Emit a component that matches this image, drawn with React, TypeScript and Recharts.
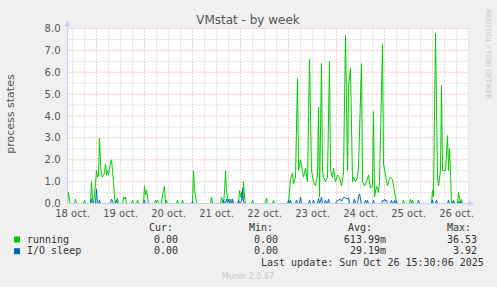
import { LineChart, Line, XAxis, YAxis, CartesianGrid, ReferenceLine } from 'recharts';

// hours counted from 18 oct 00:00
const dayLabels = ['18 oct.', '19 oct.', '20 oct.', '21 oct.', '22 oct.', '23 oct.', '24 oct.', '25 oct.', '26 oct.'];
const dayNoons = [12, 36, 60, 84, 108, 132, 156, 180, 204];
const dayStarts = [24, 48, 72, 96, 120, 144, 168, 192];
const yTicks = [0, 1, 2, 3, 4, 5, 6, 7, 8];

// [hour, value] samples
const running: [number, number][] = [
  [9.5, 0], [10, 0.5], [10.5, 0.1], [11, 0],
  [13, 0], [13.5, 0.2], [14, 0],
  [17.5, 0], [18, 0.15], [18.5, 0],
  [21, 0], [21.5, 1.0], [22, 0.2], [22.5, 0],
  [23.5, 0.9], [24, 1.5], [24.5, 1.2], [25, 1.3], [25.5, 3.0], [26, 1.8], [26.5, 1.3], [27, 1.2], [27.5, 1.3],
  [28, 1.4], [28.5, 1.8], [29, 1.3], [29.5, 1.5], [30, 1.3], [30.5, 1.6], [31, 1.9], [31.5, 2.0], [32, 1.5],
  [32.5, 1.0], [33, 0.3], [33.5, 0],
  [34.5, 0.25], [35, 0],
  [37, 0], [37.5, 0.3], [38, 0.2], [38.5, 0.3], [39, 0],
  [41.5, 0], [42, 0.15], [42.5, 0],
  [44, 0], [44.5, 0.15], [45, 0],
  [47.5, 0], [48, 0.8], [48.5, 0.4], [49, 0.6], [49.5, 0.3], [50, 0],
  [53, 0], [53.5, 0.15], [54, 0.05], [54.5, 0.15], [55, 0],
  [56.5, 0], [57, 0.4], [57.5, 0.6], [58, 0.8], [58.5, 0], [59, 0.15], [59.5, 0],
  [64, 0], [64.5, 0.15], [65, 0],
  [66.5, 0], [67, 0.15], [67.5, 0],
  [72, 0], [72.5, 1.5], [73, 0.6], [73.5, 0.4], [74, 0],
  [81, 0], [81.5, 0.3], [82, 0],
  [86, 0], [86.5, 0.3], [87, 0.15], [87.5, 0],
  [88, 0.5], [88.5, 1.5], [89, 0.6], [89.5, 0.2], [90, 0.1], [90.5, 0.2], [91, 0.15], [91.5, 0.2], [92, 0.1], [92.5, 0],
  [95, 0], [95.5, 0.6], [96, 0.3], [96.5, 0.5], [97, 0.2], [97.5, 1.0], [98, 0.3], [98.5, 0],
  [101.5, 0], [102, 0.15], [102.5, 0],
  [108.5, 0], [109, 0.25], [109.5, 0],
  [112, 0], [112.5, 0.15], [113, 0],
  [120, 0], [121, 1.1], [122, 1.4], [122.5, 0.9], [123.5, 1.2], [124.5, 5.7], [125, 1.5], [126, 2.0], [127, 1.5],
  [127.5, 1.2], [128.5, 1.6], [129.5, 1.0], [130.5, 6.6], [131.5, 1.5], [132.5, 1.0], [133.5, 0.8], [134.5, 1.3],
  [135, 4.4], [135.5, 0.3], [136.5, 6.4], [137, 1.5], [137.5, 1.2], [138.5, 1.0], [139.5, 1.2], [140.5, 6.5],
  [141, 1.5], [142, 1.2], [142.5, 1.6], [143.5, 1.0], [144.5, 1.3], [145.5, 1.2], [146.5, 0.8], [147.5, 1.4],
  [148.5, 7.7], [149.5, 1.5], [150, 5.3], [151, 6.2], [152, 1.0], [152.5, 1.2], [153.5, 1.0], [154.5, 1.2],
  [155, 1.7], [156.5, 6.4], [157, 1.0], [158, 0.8], [159, 1.0], [160, 1.3], [161, 0.7], [162, 0.8], [162.5, 4.2],
  [163, 0.3], [164, 0.8], [165, 0.5], [165.5, 1.0], [167, 7.3], [167.5, 1.8], [168.5, 1.3], [169.5, 0.8],
  [170, 1.0], [171, 1.2], [172, 1.1], [172.5, 0.8], [173.5, 0.3], [174, 0],
  [177, 0], [177.5, 0.15], [178, 0],
  [180.5, 0], [181, 0.2], [181.5, 0], [182, 0.15], [182.5, 0],
  [191.5, 0], [192, 0.6], [192.5, 0.3], [193.5, 7.8], [194.5, 1.2], [195, 0.8], [196, 1.5], [196.5, 5.4],
  [197, 1.5], [198, 1.5], [198.5, 1.5], [199.5, 3.1], [200, 1.5], [200.5, 2.5], [201, 1.5], [201.5, 0],
  [202, 0], [202.5, 0.15], [203, 0],
  [204.5, 0], [205, 0.5], [205.5, 0.2], [206, 0], [206.5, 0.2], [207, 0],
  [210, 0],
];

const ioSleep: [number, number][] = [
  [9.5, 0], [21, 0], [21.5, 0.2], [22, 0], [23.5, 0], [24, 0.65], [24.5, 0], [25, 0], [25.5, 0.15], [26, 0],
  [31, 0], [31.5, 0.2], [32, 0.1], [32.5, 0], [33.5, 0], [34, 0.15], [34.5, 0], [47.5, 0], [48, 0.15], [48.5, 0],
  [71.5, 0], [72, 0.1], [72.5, 0], [87, 0], [87.5, 0.15], [88, 0], [88.5, 0], [89, 0.2], [89.5, 0.05], [90, 0.2],
  [90.5, 0], [91, 0.15], [91.5, 0], [92, 0.2], [92.5, 0], [94.5, 0], [95, 0.15], [95.5, 0], [96.5, 0.1], [97, 0.7],
  [97.5, 0.1], [98, 0],
  [119.5, 0], [120, 0.15], [120.5, 0], [121, 0.15], [121.5, 0], [123.5, 0], [124, 0.15], [124.5, 0], [125.5, 0],
  [126, 0.3], [126.5, 0], [130, 0], [130.5, 0.15], [131, 0], [132, 0], [132.5, 0.15], [133, 0], [134.5, 0],
  [135, 0.25], [135.5, 0], [136, 0.1], [136.5, 0.3], [137, 0], [138, 0], [138.5, 0.15], [139, 0], [139.5, 0],
  [140, 0.2], [140.5, 0],
  [143.5, 0], [144, 0.1], [145, 0.15], [146, 0.2], [146.5, 0.1], [147, 0.2], [147.5, 0.25], [148, 0.3], [149, 0.2],
  [150, 0.25], [150.5, 0], [152.5, 0], [153, 0.2], [153.5, 0], [154.5, 0], [155, 0.3], [155.5, 0.44], [156, 0.2],
  [156.5, 0], [158, 0], [158.5, 0.15], [159, 0], [159.5, 0.15], [160, 0], [162, 0], [162.5, 0.15], [163, 0],
  [166.5, 0], [167, 0.15], [167.5, 0.1], [168, 0.2], [168.5, 0.1], [169, 0.15], [169.5, 0], [171, 0], [171.5, 0.15],
  [172, 0], [172.5, 0], [173, 0.15], [173.5, 0], [174, 0.1], [174.5, 0],
  [184.5, 0], [185, 0.15], [185.5, 0], [191.5, 0], [192, 0.15], [192.5, 0], [193.5, 0], [194, 0.15], [194.5, 0],
  [199.5, 0], [200, 0.15], [200.5, 0], [202, 0], [202.5, 0.1], [203, 0], [204.5, 0], [205, 0.1], [205.5, 0],
  [206, 0.1], [206.5, 0], [210, 0],
];

const seriesNames = ['running', 'I/O sleep'];
const seriesColors = ['#00cc00', '#0066b3'];
const curValues = ['0.00', '0.00'];
const minValues = ['0.00', '0.00'];
const avgValues = ['613.99m', '29.19m'];
const maxValues = ['36.53', '3.92'];

const toRows = (pts: [number, number][]) => pts.map(([h, v]) => ({ h, v }));

const minorX: number[] = [];
for (let h = 12; h <= 210; h += 6) if (h % 24 !== 0) minorX.push(h);
const minorY = yTicks.slice(0, -1).map(t => t + 0.5);

const majorGrid = '#ee9a9a';
const minorGrid = '#c4c4c4';
const sans = 'DejaVu Sans, sans-serif';
const mono = 'DejaVu Sans Mono, monospace';

export default function App() {
  return (
    <div style={{ position: 'absolute', left: 0, top: 0, width: 497, height: 287, background: '#f0f0f0' }}>
      <LineChart width={497} height={287} margin={{ top: 28.5, right: 28.5, bottom: 0, left: 0.5 }}>
        <CartesianGrid fill="#ffffff" horizontal={false} vertical={false} />
        {minorX.map(h => (
          <ReferenceLine key={'mx' + h} x={h} stroke={minorGrid} strokeDasharray="1 2" />
        ))}
        {minorY.map(v => (
          <ReferenceLine key={'my' + v} y={v} stroke={minorGrid} strokeDasharray="1 2" />
        ))}
        {dayStarts.map(h => (
          <ReferenceLine key={'Mx' + h} x={h} stroke={majorGrid} strokeDasharray="1 2" />
        ))}
        {yTicks.slice(1).map(v => (
          <ReferenceLine key={'My' + v} y={v} stroke={majorGrid} strokeDasharray="1 2" />
        ))}
        <XAxis
          dataKey="h"
          type="number"
          domain={[9.5, 210]}
          allowDataOverflow
          ticks={dayNoons}
          interval={0}
          tickFormatter={(h: number) => dayLabels[dayNoons.indexOf(h)]}
          height={83.5}
          tickLine={false}
          tickSize={0}
          tickMargin={6}
          axisLine={{ stroke: '#c8ccf4' }}
          tick={{ fill: '#555', fontSize: 10, fontFamily: sans }}
        />
        <YAxis
          type="number"
          domain={[0, 8]}
          ticks={yTicks}
          interval={0}
          tickFormatter={(v: number) => v.toFixed(1)}
          width={67}
          tickLine={false}
          tickSize={0}
          tickMargin={7}
          axisLine={{ stroke: '#c8ccf4' }}
          tick={{ fill: '#555', fontSize: 10, fontFamily: sans }}
        />
        <Line
          data={toRows(running)}
          dataKey="v"
          type="linear"
          stroke={seriesColors[0]}
          strokeWidth={1}
          dot={false}
          isAnimationActive={false}
        />
        <Line
          data={toRows(ioSleep)}
          dataKey="v"
          type="linear"
          stroke={seriesColors[1]}
          strokeWidth={1}
          dot={false}
          isAnimationActive={false}
        />
      </LineChart>
      <svg width={497} height={287} style={{ position: 'absolute', left: 0, top: 0, pointerEvents: 'none' }}>
        <text x={248} y={24} textAnchor="middle" fontSize={12} fill="#555" fontFamily={sans}>
          VMstat - by week
        </text>
        <text transform="translate(14,114) rotate(-90)" textAnchor="middle" fontSize={11} fill="#555" fontFamily={sans}>
          process states
        </text>
        <text transform="translate(485.5,54) rotate(90)" textAnchor="middle" fontSize={7} fill="#c8c8c8" fontFamily={sans}>
          RRDTOOL / TOBI OETIKER
        </text>
        <line x1={67.5} y1={28.5} x2={67.5} y2={23} stroke="#c8ccf4" />
        <polygon points="64.5,26.5 70.5,26.5 67.5,21" fill="#c8ccf4" />
        <polygon points="468.5,200.5 468.5,206.5 474,203.5" fill="#c8ccf4" />
        <g fontFamily={mono} fontSize={10} fill="#333">
          <text x={149} y={231}>Cur:</text>
          <text x={249} y={231}>Min:</text>
          <text x={348} y={231}>Avg:</text>
          <text x={447} y={231}>Max:</text>
          {seriesNames.map((name, i) => {
            const y = 242.5 + i * 11.7;
            return (
              <g key={name}>
                <rect x={14} y={y - 6} width={6} height={6} fill={seriesColors[i]} />
                <text x={27} y={y}>{name}</text>
                <text x={178} y={y} textAnchor="end">{curValues[i]}</text>
                <text x={278} y={y} textAnchor="end">{minValues[i]}</text>
                <text x={386} y={y} textAnchor="end">{avgValues[i]}</text>
                <text x={477} y={y} textAnchor="end">{maxValues[i]}</text>
              </g>
            );
          })}
          <text x={261} y={266}>Last update: Sun Oct 26 15:30:06 2025</text>
        </g>
        <text x={248} y={279} textAnchor="middle" fontSize={8} fill="#c8c8c8" fontFamily={sans}>
          Munin 2.0.67
        </text>
      </svg>
    </div>
  );
}
